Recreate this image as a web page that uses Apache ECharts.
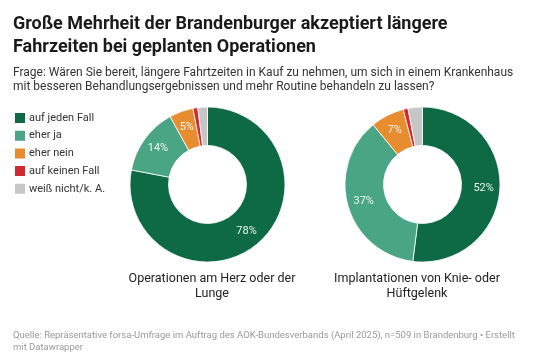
<!DOCTYPE html>
<html>
<head>
<meta charset="utf-8">
<script src="https://cdn.jsdelivr.net/npm/echarts@6/dist/echarts.min.js"></script>
<style>
html,body{margin:0;padding:0;background:#fff;}
#c{width:535px;height:356px;}
</style>
</head>
<body>
<div id="c"></div>
<script>
const categories = ['auf jeden Fall', 'eher ja', 'eher nein', 'auf keinen Fall', 'weiß nicht/k. A.'];
const colors = ['#0e6a45', '#4aa584', '#e88d2f', '#d2282f', '#c6c6c6'];
const herzLunge = [78, 14, 5, 1, 2];
const knieHuefte = [52, 37, 7, 1, 3];
const pieTitles = ['Operationen am Herz oder der\nLunge', 'Implantationen von Knie- oder\nHüftgelenk'];

const font = 'Roboto, "Noto Sans", sans-serif';
const chart = echarts.init(document.getElementById('c'), null, {renderer: 'canvas'});

function pieSeries(name, values, cx) {
  return {
    name: name,
    type: 'pie',
    center: [cx, 184.5],
    radius: [39, 77.5],
    startAngle: 90,
    clockwise: true,
    avoidLabelOverlap: false,
    animation: false,
    silent: true,
    itemStyle: {borderColor: '#fff', borderWidth: 0.8},
    label: {
      show: true,
      position: 'inside',
      fontFamily: font,
      fontSize: 11,
      color: '#eef6f1',
      formatter: p => (p.value >= 4 ? p.value + '%' : '')
    },
    labelLine: {show: false},
    data: values.map((v, i) => ({name: categories[i], value: v, itemStyle: {color: colors[i]}}))
  };
}

chart.setOption({
  backgroundColor: '#fff',
  animation: false,
  title: [
    {
      text: 'Große Mehrheit der Brandenburger akzeptiert längere\nFahrzeiten bei geplanten Operationen',
      left: 8, top: 8,
      textStyle: {fontFamily: font, fontSize: 18, fontWeight: 'bold', color: '#1a1a1a', lineHeight: 23}
    },
    {
      text: 'Frage: Wären Sie bereit, längere Fahrtzeiten in Kauf zu nehmen, um sich in einem Krankenhaus\nmit besseren Behandlungsergebnissen und mehr Routine behandeln zu lassen?',
      left: 8, top: 61,
      textStyle: {fontFamily: font, fontSize: 12, fontWeight: 'normal', color: '#333', lineHeight: 14}
    },
    {
      text: pieTitles[0],
      left: 207, top: 267, textAlign: 'center',
      textStyle: {fontFamily: font, fontSize: 12.5, fontWeight: 'normal', color: '#222', lineHeight: 14.5, align: 'center'}
    },
    {
      text: pieTitles[1],
      left: 412, top: 267, textAlign: 'center',
      textStyle: {fontFamily: font, fontSize: 12.5, fontWeight: 'normal', color: '#222', lineHeight: 14.5, align: 'center'}
    },
    {
      text: 'Quelle: Repräsentative forsa-Umfrage im Auftrag des AOK-Bundesverbands (April 2025), n=509 in Brandenburg • Erstellt\nmit Datawrapper',
      left: 8, top: 325,
      textStyle: {fontFamily: font, fontSize: 9.5, fontWeight: 'normal', color: '#999', lineHeight: 11.5}
    }
  ],
  legend: {
    orient: 'vertical',
    left: 8, top: 106,
    icon: 'rect',
    itemWidth: 12, itemHeight: 12,
    itemGap: 3.7,
    selectedMode: false,
    textStyle: {fontFamily: font, fontSize: 11, color: '#333', lineHeight: 12, padding: [0, 0, 0, -2]},
    data: categories
  },
  series: [
    pieSeries(pieTitles[0], herzLunge, 207.5),
    pieSeries(pieTitles[1], knieHuefte, 422.5)
  ]
});
</script>
</body>
</html>
